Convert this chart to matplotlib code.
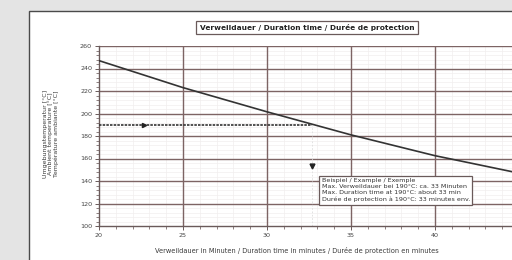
import matplotlib
matplotlib.use("Agg")
import matplotlib.pyplot as plt
from matplotlib.patches import Rectangle
from matplotlib.ticker import MultipleLocator

# data
duration = [20, 25, 30, 35, 40, 45]
temperature = [247, 223, 201.5, 181, 162.5, 147]
example_time = 32.7
example_temp = 190
x_ticks = [20, 25, 30, 35, 40]
y_ticks = [100, 120, 140, 160, 180, 200, 220, 240, 260]

title = "Verweildauer / Duration time / Durée de protection"
xlabel = "Verweildauer in Minuten / Duration time in minutes / Durée de protection en minutes"
ylabel = "Umgebungstemperatur [°C]\nAmbient temperature [°C]\nTempérature ambiante [°C]"
note = ("Beispiel / Example / Exemple\n"
        "Max. Verweildauer bei 190°C: ca. 33 Minuten\n"
        "Max. Duration time at 190°C: about 33 min\n"
        "Durée de protection à 190°C: 33 minutes env.")

W, H = 512, 260
fig = plt.figure(figsize=(W / 100, H / 100), dpi=100)
fig.patch.set_facecolor("#e4e4e4")

# white panel
panel = Rectangle((29 / W, -0.1), 1.0, 1 - 11 / H + 0.1, transform=fig.transFigure,
                  facecolor="white", edgecolor="#4a4a4a", linewidth=1.0, zorder=-5)
fig.patches.append(panel)

left = 99 / W
bottom = 1 - 226 / H
width = 420 / W
height = 180 / H
ax = fig.add_axes([left, bottom, width, height])
ax.set_zorder(2)
ax.set_facecolor("none")
ax.set_xlim(20, 45)
ax.set_ylim(100, 260)
ax.set_xticks(x_ticks)
ax.set_yticks(y_ticks)
ax.xaxis.set_minor_locator(MultipleLocator(1))
ax.yaxis.set_minor_locator(MultipleLocator(4))

grid_col = "#7d6464"
ax.grid(True, which="minor", color="#f1eeee", linewidth=0.5)
ax.set_axisbelow(True)
for xv in x_ticks[1:] + [45]:
    ax.axvline(xv, color=grid_col, linewidth=1.0, zorder=1.5)
for yv in y_ticks[1:]:
    ax.axhline(yv, color=grid_col, linewidth=1.0, zorder=1.5)
for s in ["top", "right"]:
    ax.spines[s].set_visible(False)
for s in ["left", "bottom"]:
    ax.spines[s].set_color("#6a5a5a")
    ax.spines[s].set_linewidth(1.0)
ax.tick_params(which="major", length=3, width=0.7, color="#6a5a5a",
               labelsize=4.6, labelcolor="#444444", pad=2)
ax.tick_params(which="minor", length=2, width=0.6, color="#7a6a6a")

ax.plot(duration, temperature, color="#333333", linewidth=1.2, zorder=3)
ax.plot([20, example_time], [example_temp, example_temp], color="#333333",
        linewidth=1.2, linestyle=(0, (1.5, 0.7)), zorder=3)
ax.plot([example_time, example_time], [100, example_temp], color="#dddddd",
        linewidth=0.6, linestyle=(0, (2, 2)), zorder=2)
ax.plot([22.7], [example_temp], marker=">", color="#222222", markersize=3, zorder=4)
ax.plot([example_time], [153], marker="v", color="#222222", markersize=3.5, zorder=4)

ax.text(33.25, 142.3, note, fontsize=4.6, color="#333333", va="top", ha="left",
        linespacing=1.25,
        bbox=dict(boxstyle="square,pad=0.4", facecolor="white", edgecolor="#6a5a5a", linewidth=0.9),
        zorder=5)

fig.text(307 / W, 1 - 27.5 / H, title, fontsize=5.3, fontweight="bold", color="#222222",
         ha="center", va="center",
         bbox=dict(boxstyle="square,pad=0.45", facecolor="white", edgecolor="#6a5a5a", linewidth=0.9))

fig.text(297 / W, 1 - 250 / H, xlabel, fontsize=4.8, color="#3a3a3a", ha="center", va="center")
fig.text(51 / W, 1 - 134 / H, ylabel, fontsize=4.5, color="#3a3a3a", ha="center", va="center",
         rotation=90, linespacing=1.1)

fig.savefig("out.png", dpi=100)
